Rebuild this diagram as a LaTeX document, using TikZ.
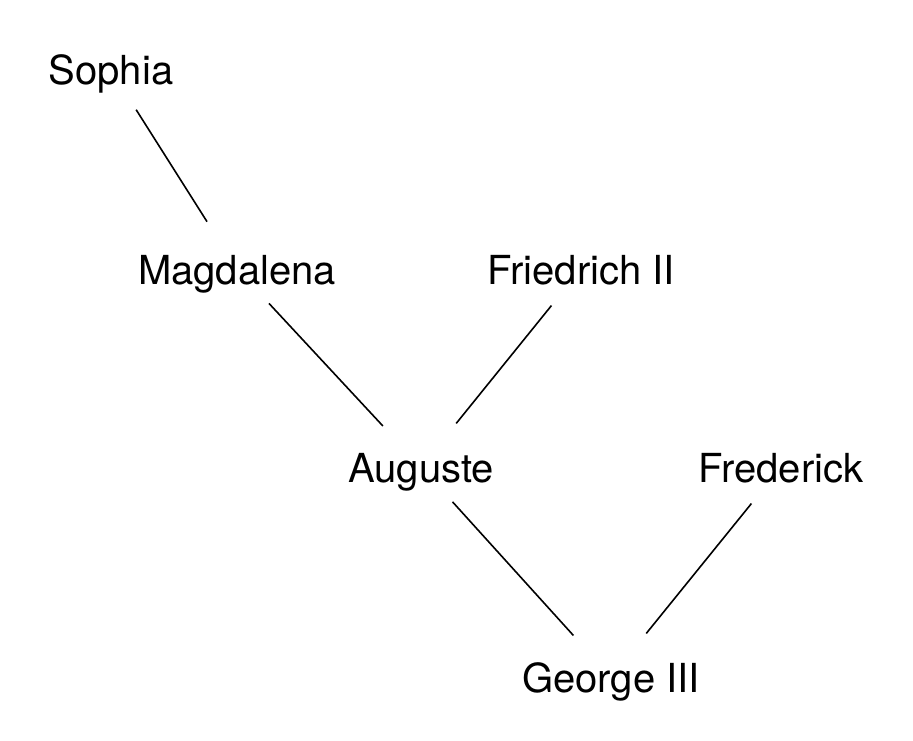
\documentclass[tikz,border=0pt]{standalone}
\usepackage{fontspec}
\setmainfont{TeX Gyre Heros}
\begin{document}
\begin{tikzpicture}[x=1pt,y=-1pt,
  person/.style={inner sep=0pt,text height=30pt,text depth=0pt,font=\fontsize{40}{48}\selectfont},
  link/.style={line width=1.6pt,shorten <=47pt,shorten >=56pt}]
\useasboundingbox (0,0) rectangle (913,741);
\node[person] (so) at (111,70) {Sophia};
\node[person] (ma) at (237,269) {Magdalena};
\node[person] (fr) at (581,269) {Friedrich II};
\node[person] (au) at (421,467) {Auguste};
\node[person] (fk) at (781,467) {Frederick};
\node[person] (ge) at (611,677) {George III};
\draw[link] (so.center) -- (ma.center);
\draw[link] (ma.center) -- (au.center);
\draw[link] (fr.center) -- (au.center);
\draw[link] (au.center) -- (ge.center);
\draw[link] (fk.center) -- (ge.center);
\end{tikzpicture}
\end{document}
